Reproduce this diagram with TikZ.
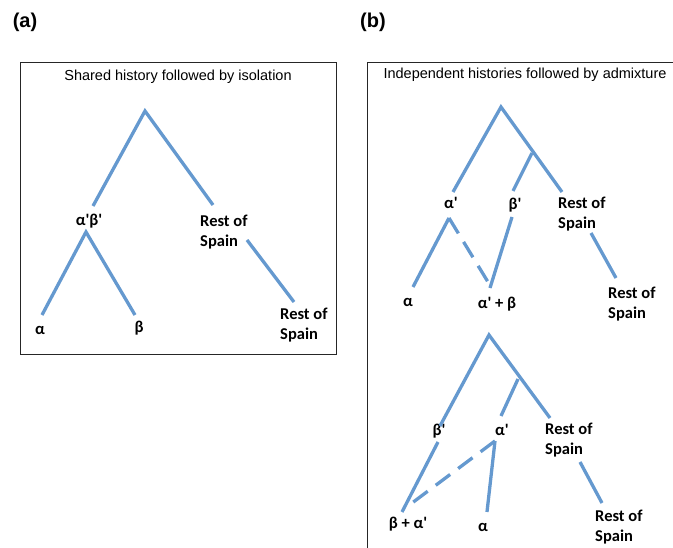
\documentclass[tikz,border=0pt]{standalone}
\usepackage{fontspec}
\setmainfont{Carlito}
\newfontfamily\headfont{Liberation Sans}
\usetikzlibrary{positioning}
\definecolor{treeblue}{RGB}{101,153,207}
\newcommand{\pr}{\textquotesingle}

\begin{document}
\begin{tikzpicture}[
    x=1pt, y=-1pt,
    branch/.style={
		draw=treeblue,
		line width=3.3pt
	},
	admix/.style={
		branch,
		dash pattern=on 18pt off 10pt
	},
	leaf/.style={
		font=\bfseries\fontsize{16.5}{20}\selectfont,
		inner sep=0pt,
		align=left
	},
	title/.style={
		font=\headfont\fontsize{14.5}{17}\selectfont,
		inner sep=0pt
	},
	panel/.style={
		font=\headfont\bfseries\fontsize{20}{24}\selectfont,
		inner sep=0pt
	}
  ]
  \useasboundingbox (0,0) rectangle (673,548);

    % We start by placing the panels
  \node [panel] (panA) at (25,22) {(a)};
  \node [panel] (panB) at (373,22) {(b)};
  \draw [black!85, line width=0.8pt] (20,62) rectangle (336,354);
  \draw [black!85, line width=0.8pt] (673,62) -- (367,62) -- (367,548);
  \node [title] (titA) at (178,77) {Shared history followed by isolation};
  \node [title] (titB) at (525,75) {Independent histories followed by admixture};

    % (a) shared history
  \coordinate (rootA) at (145,111);
  \coordinate (abEnd) at (93,206);
  \coordinate (rsEndA) at (213,205);
  \node [leaf] (abA) at (89,221) {α\pr β\pr};
  \node [leaf, anchor=west] (rsA) at (200,232) {Rest of\\Spain};
  \coordinate (abTop) at (86,232);
  \coordinate (alEndA) at (42,315);
  \coordinate (beEndA) at (135,315);
  \node [leaf] (alA) at (40,330) {α};
  \node [leaf] (beA) at (139,328) {β};
  \coordinate (rsTopA) at (247,240);
  \coordinate (rsLowA) at (294,302);
  \node [leaf, anchor=west] (rs2A) at (280,325) {Rest of\\Spain};

  \draw [branch] (abEnd) -- (rootA) -- (rsEndA);
  \draw [branch] (alEndA) -- (abTop) -- (beEndA);
  \draw [branch] (rsTopA) -- (rsLowA);

    % (b) upper tree
  \coordinate (rootB) at (501,107);
  \coordinate (joinB) at (532,153);
  \coordinate (alEndB) at (453,192);
  \coordinate (beEndB) at (513,191);
  \coordinate (rsEndB) at (562,192);
  \node [leaf] (alB) at (451,203) {α\pr};
  \node [leaf] (beB) at (515,205) {β\pr};
  \node [leaf, anchor=west] (rsB) at (558,214) {Rest of\\Spain};
  \coordinate (alTopB) at (449,218);
  \coordinate (alLowB) at (413,287);
  \coordinate (mixEndB) at (488,282);
  \coordinate (beTopB) at (512,217);
  \coordinate (beLowB) at (490,288);
  \node [leaf] (al2B) at (408,302) {α};
  \node [leaf] (mixB) at (497,304) {α\pr{} + β};
  \coordinate (rsTopB) at (591,233);
  \coordinate (rsLowB) at (616,278);
  \node [leaf, anchor=west] (rs2B) at (608,304) {Rest of\\Spain};

  \draw [branch] (alEndB) -- (rootB) -- (rsEndB);
  \draw [branch] (joinB) -- (beEndB);
  \draw [branch] (alLowB) -- (alTopB);
  \draw [admix] (alTopB) -- (mixEndB);
  \draw [branch] (beTopB) -- (beLowB);
  \draw [branch] (rsTopB) -- (rsLowB);

    % (b) lower tree
  \coordinate (rootC) at (489,335);
  \coordinate (joinC) at (518,379);
  \coordinate (beEndC) at (440,426);
  \coordinate (alEndC) at (501,416);
  \coordinate (rsEndC) at (550,418);
  \node [leaf] (beC) at (439,431) {β\pr};
  \node [leaf] (alC) at (502,430) {α\pr};
  \node [leaf, anchor=west] (rsC) at (545,440) {Rest of\\Spain};
  \coordinate (beTopC) at (438,442);
  \coordinate (mixEndC) at (402,512);
  \coordinate (alTopC) at (495,441);
  \coordinate (alLowC) at (487,512);
  \coordinate (mixTipC) at (412,503);
  \node [leaf] (mixC) at (408,524) {β + α\pr};
  \node [leaf] (al2C) at (483,527) {α};
  \coordinate (rsTopC) at (580,462);
  \coordinate (rsLowC) at (602,503);
  \node [leaf, anchor=west] (rs2C) at (595,527) {Rest of\\Spain};

  \draw [branch] (beEndC) -- (rootC) -- (rsEndC);
  \draw [branch] (joinC) -- (alEndC);
  \draw [branch] (beTopC) -- (mixEndC);
  \draw [branch] (alTopC) -- (alLowC);
  \draw [admix] (alTopC) -- (mixTipC);
  \draw [branch] (rsTopC) -- (rsLowC);

\end{tikzpicture}
\end{document}
